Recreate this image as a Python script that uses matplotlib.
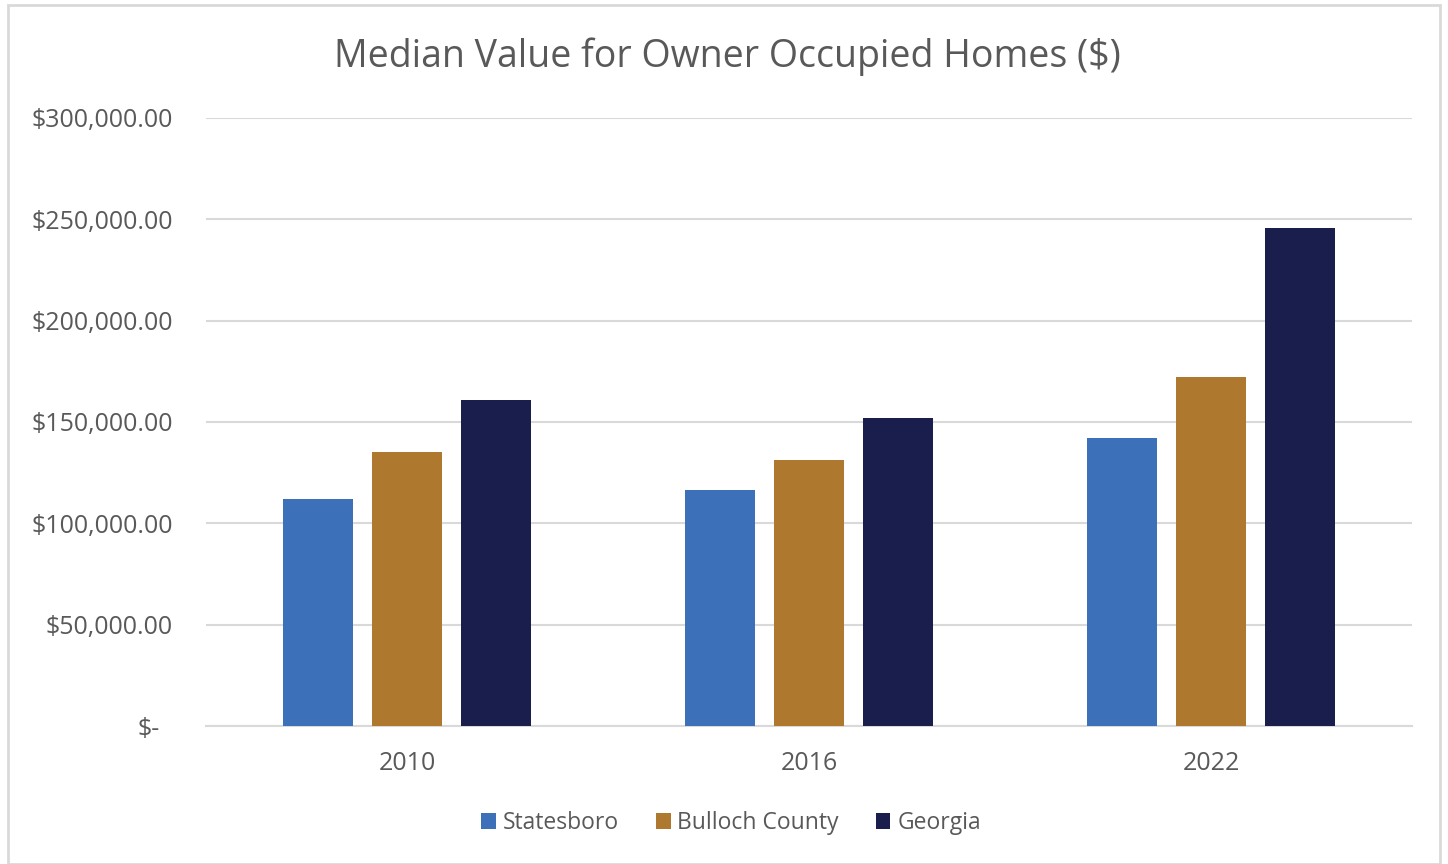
import numpy as np
import matplotlib.pyplot as plt
import matplotlib.patches as mpatches

plt.rcParams['font.family'] = ['Open Sans', 'DejaVu Sans']

# data
years = ['2010', '2016', '2022']
statesboro = [112000, 116450, 142250]
bulloch = [135200, 131400, 172200]
georgia = [160850, 151970, 245560]
series_names = ['Statesboro', 'Bulloch County', 'Georgia']
yticks = [0, 50000, 100000, 150000, 200000, 250000, 300000]

colors = ['#3C70B8', '#AE792F', '#1A1E4C']
txt = '#595959'
grid_c = '#D9D9D9'

fig = plt.figure(figsize=(14.48, 8.64), dpi=100)
ax = fig.add_axes([206/1448, 1-726/864, 1206/1448, 608/864])

# chart border
fig.patches.append(mpatches.Rectangle((8/1448, 0), 1-16/1448, 1-5/864, transform=fig.transFigure,
                                      fill=False, edgecolor=grid_c, linewidth=2))

x = np.arange(len(years))
w = 70/402
step = 89/402
for i, (vals, name) in enumerate(zip([statesboro, bulloch, georgia], series_names)):
    ax.bar(x+(i-1)*step, vals, width=w, color=colors[i], label=name, zorder=3)

ax.set_xlim(-0.5, 2.5)
ax.set_ylim(0, 300000)
ax.set_yticks(yticks)
ax.set_yticklabels([f'${v:,.2f}' if v > 0 else '$-' for v in yticks])
ax.set_xticks(x)
ax.set_xticklabels(years)
ax.tick_params(axis='both', length=0, labelsize=18, labelcolor=txt)
ax.tick_params(axis='y', pad=24)
ax.tick_params(axis='x', pad=18)
# the zero label sits a bit left of the others, like excel's accounting format
ax.get_yticklabels()[0].set_x(-0.011)
ax.grid(axis='y', color=grid_c, linewidth=1.5, zorder=0)
for s in ['top', 'right', 'left']:
    ax.spines[s].set_visible(False)
ax.spines['bottom'].set_color(grid_c)
ax.spines['bottom'].set_linewidth(1.5)

fig.text(727/1448, 1-57/864, 'Median Value for Owner Occupied Homes ($)', ha='center', va='center',
         fontsize=27, color=txt)

fig.legend(loc='center', bbox_to_anchor=(731/1448, 1-823/864), ncol=3, frameon=False,
           fontsize=16.5, labelcolor=txt, handlelength=0.65, handleheight=0.65, handletextpad=0.3,
           columnspacing=1.6)

plt.savefig('out.png', dpi=100)
